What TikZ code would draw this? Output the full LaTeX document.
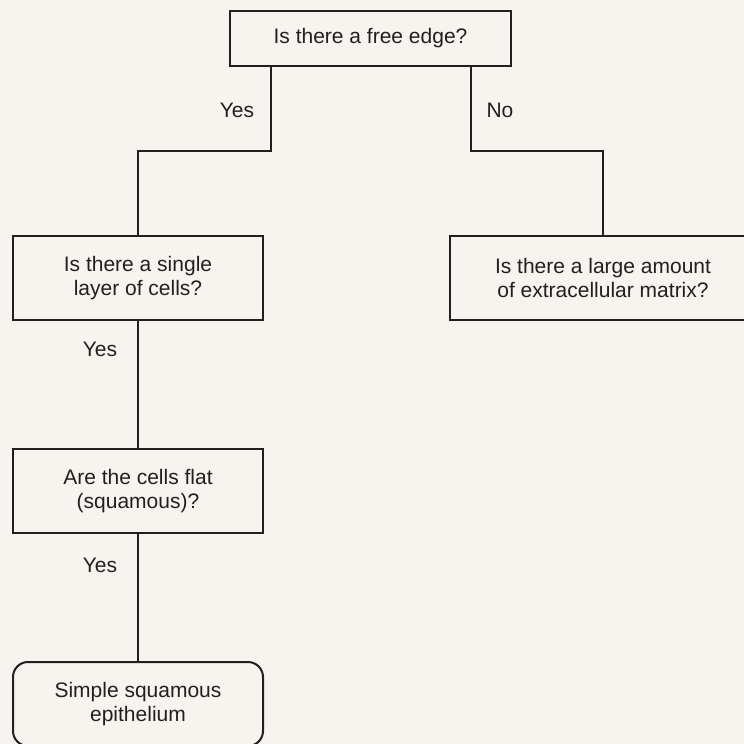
\documentclass[tikz,border=0pt]{standalone}
\usepackage{fontspec}
\setmainfont{Liberation Sans}
\definecolor{bg}{HTML}{F7F4F0}
\definecolor{ink}{HTML}{231F20}
\begin{document}
\begin{tikzpicture}[x=1pt,y=-1pt,
  box/.style={draw=ink, line width=2pt, fill=bg, text=ink, align=center, inner sep=0pt,
    font=\fontsize{21}{24.5}\selectfont},
  lbl/.style={text=ink, inner sep=0pt, font=\fontsize{21}{24.5}\selectfont},
  conn/.style={draw=ink, line width=2pt}]
\useasboundingbox (0,0) rectangle (744,744);
\fill[bg] (0,0) rectangle (744,744);
\clip (0,0) rectangle (744,744);
\node[box, minimum width=281pt, minimum height=55pt] (top) at (370.5,38.5) {Is there a free edge?};
\node[box, minimum width=250pt, minimum height=84pt] (single) at (138,278) {Is there a single\\layer of cells?};
\node[box, minimum width=306pt, minimum height=84pt] (matrix) at (603,278) {Is there a large amount\\of extracellular matrix?};
\node[box, minimum width=250pt, minimum height=84pt] (flat) at (138,491) {Are the cells flat\\(squamous)?};
\node[box, rounded corners=15pt, minimum width=250pt, minimum height=84pt] (simple) at (138,704) {Simple squamous\\epithelium};
\coordinate (jl) at (271,151);
\coordinate (jr) at (470.5,151);
\draw[conn] (top.south -| jl) -- (jl) -| (single.north);
\draw[conn] (top.south -| jr) -- (jr) -| (matrix.north);
\draw[conn] (single.south) -- (flat.north);
\draw[conn] (flat.south) -- (simple.north);
\node[lbl] (yes1) at (237,110) {Yes};
\node[lbl] (no1) at (500,110) {No};
\node[lbl] (yes2) at (100,349) {Yes};
\node[lbl] (yes3) at (100,565) {Yes};
\end{tikzpicture}
\end{document}
